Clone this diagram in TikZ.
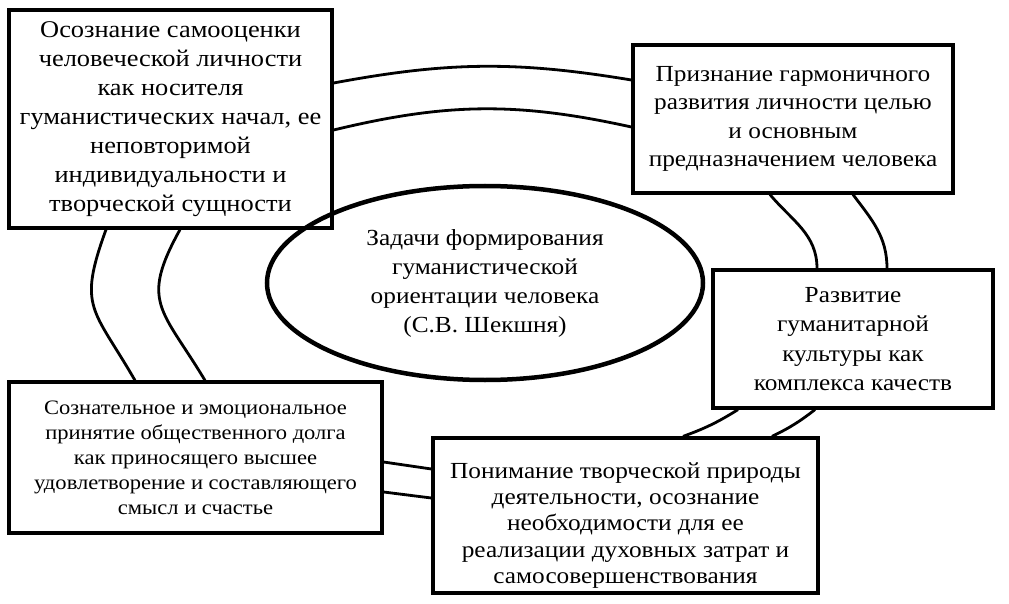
\documentclass[tikz,border=0pt]{standalone}
\usepackage{fontspec}
\setmainfont{Liberation Serif}[FakeStretch=1.1]
\usetikzlibrary{shapes.geometric}

\begin{document}
\begin{tikzpicture}[
        x=1pt, y=1pt,
        box/.style={draw, line width=3.2pt, inner sep=0pt, align=center,
            font=\fontsize{23}{29}\selectfont},
        link/.style={line width=2.8pt}
    ]
    \useasboundingbox (0,0) rectangle (1009,-604);
    % central task
    \node[draw, ellipse, line width=4.5pt, inner sep=0pt, align=center,
        minimum width=436, minimum height=194,
        font=\fontsize{23}{29}\selectfont] (task) at (485,-283)
        {Задачи формирования\\гуманистической\\ориентации человека\\(С.В. Шекшня)};
    % the five tasks
    \node[box, minimum width=323, minimum height=218,
        font=\fontsize{24}{29}\selectfont] (self) at (170.5,-119)
        {Осознание самооценки\\человеческой личности\\как носителя\\гуманистических начал, ее\\неповторимой\\индивидуальности и\\творческой сущности};
    \node[box, minimum width=320, minimum height=148,
        font=\fontsize{23}{28.5}\selectfont] (harm) at (793,-119)
        {Признание гармоничного\\развития личности целью\\и основным\\предназначением человека};
    \node[box, minimum width=280, minimum height=138,
        font=\fontsize{23}{29.5}\selectfont] (cult) at (853,-339)
        {Развитие\\гуманитарной\\культуры как\\комплекса качеств};
    \node[box, minimum width=373, minimum height=151,
        font=\fontsize{20.5}{25}\selectfont] (duty) at (195.5,-457.5)
        {Сознательное и эмоциональное\\принятие общественного долга\\как приносящего высшее\\удовлетворение и составляющего\\смысл и счастье};
    \node[box, minimum width=385, minimum height=155,
        label={[align=center, yshift=-10pt, font=\fontsize{23}{26.3}\selectfont]center:{Понимание творческой природы\\деятельности, осознание\\необходимости для ее\\реализации духовных затрат и\\самосовершенствования}}]
        (creat) at (625.5,-515.5) {};
    % links between the tasks
    \draw[link] ([yshift=36]self.east) to[bend left=10] ([yshift=39]harm.west);
    \draw[link] ([yshift=-11]self.east) to[bend left=13] ([yshift=-8]harm.west);
    \draw[link] ([xshift=-23]harm.south) to[out=-50, in=90] ([xshift=-36]cult.north);
    \draw[link] ([xshift=60]harm.south) to[out=-53, in=90] ([xshift=34]cult.north);
    \draw[link] ([xshift=-115]cult.south) to[bend left=6] ([xshift=57.5]creat.north);
    \draw[link] ([xshift=-38]cult.south) to[bend left=6] ([xshift=146.5]creat.north);
    \draw[link] ([yshift=46.5]creat.west) -- ([yshift=-4.5]duty.east);
    \draw[link] ([yshift=17.5]creat.west) -- ([yshift=-34.5]duty.east);
    \draw[link] ([xshift=-64.5]self.south) to[out=-110, in=120, looseness=1.4] ([xshift=-60.5]duty.north);
    \draw[link] ([xshift=9.5]self.south) to[out=-119, in=121, looseness=1.4] ([xshift=9.5]duty.north);
\end{tikzpicture}
\end{document}
